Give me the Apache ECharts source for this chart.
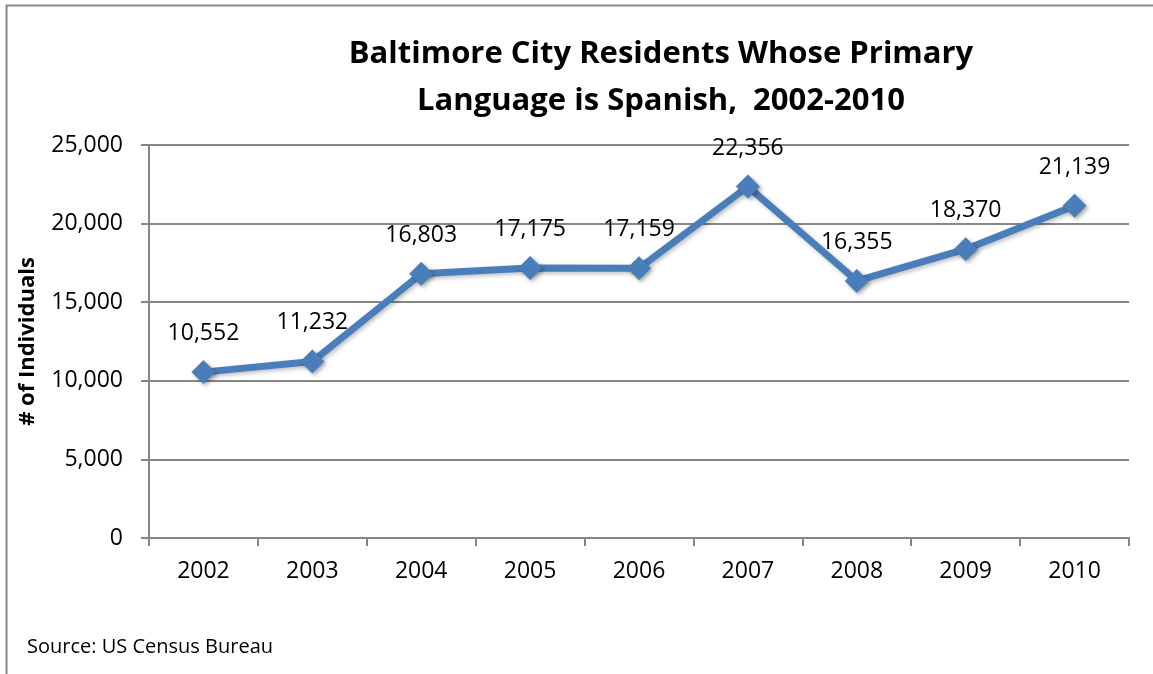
<!DOCTYPE html>
<html>
<head>
<meta charset="utf-8">
<script src="https://cdn.jsdelivr.net/npm/echarts@6/dist/echarts.min.js"></script>
<style>
  html, body { margin: 0; padding: 0; background: #fff; }
  #chart { width: 1153px; height: 674px; }
</style>
</head>
<body>
<div id="chart"></div>
<script>
// Baltimore City residents whose primary language is Spanish
const years = ['2002', '2003', '2004', '2005', '2006', '2007', '2008', '2009', '2010'];
const residents = [10552, 11232, 16803, 17175, 17159, 22356, 16355, 18370, 21139];
const yTicks = [0, 5000, 10000, 15000, 20000, 25000];

const FONT = '"Open Sans", "Liberation Sans", sans-serif';
const fmt = v => v.toLocaleString('en-US');

const chart = echarts.init(document.getElementById('chart'), null, { renderer: 'canvas' });

chart.setOption({
  animation: false,
  backgroundColor: '#ffffff',
  title: {
    text: 'Baltimore City Residents Whose Primary\nLanguage is Spanish,  2002-2010',
    left: 656,
    top: 26,
    textAlign: 'center',
    textStyle: {
      fontFamily: FONT,
      fontSize: 31,
      fontWeight: 'bold',
      color: '#000',
      lineHeight: 47
    }
  },
  graphic: [
    {
      type: 'polyline',
      shape: { points: [[6.5, 680], [6.5, 5.5], [1160, 5.5]] },
      style: { stroke: '#888888', lineWidth: 2, fill: null },
      silent: true
    },
    {
      type: 'text',
      left: 27,
      top: 637,
      style: {
        text: 'Source: US Census Bureau',
        fontFamily: FONT,
        fontSize: 20,
        fill: '#000'
      }
    }
  ],
  grid: {
    left: 149,
    right: 24,
    top: 145,
    bottom: 136,
    containLabel: false
  },
  xAxis: {
    type: 'category',
    data: years,
    boundaryGap: true,
    axisLine: { lineStyle: { color: '#868686', width: 2 } },
    axisTick: { show: true, length: 8, lineStyle: { color: '#868686', width: 2 } },
    axisLabel: {
      margin: 22,
      fontFamily: FONT,
      fontSize: 23,
      color: '#000'
    }
  },
  yAxis: {
    type: 'value',
    min: yTicks[0],
    max: yTicks[yTicks.length - 1],
    interval: 5000,
    name: '# of Individuals',
    nameLocation: 'middle',
    nameGap: 110,
    nameTextStyle: {
      fontFamily: FONT,
      fontSize: 22,
      fontWeight: 'bold',
      color: '#000'
    },
    axisLine: { show: true, lineStyle: { color: '#868686', width: 2 } },
    axisTick: { show: true, length: 8, lineStyle: { color: '#868686', width: 2 } },
    splitLine: { lineStyle: { color: '#868686', width: 2 } },
    axisLabel: {
      margin: 26,
      fontFamily: FONT,
      fontSize: 23,
      color: '#000',
      formatter: v => fmt(v)
    }
  },
  series: [
    {
      type: 'line',
      data: residents,
      symbol: 'diamond',
      symbolSize: 24,
      lineStyle: {
        color: '#4a7ebb',
        width: 7,
        shadowColor: 'rgba(0,0,0,0.25)',
        shadowBlur: 4,
        shadowOffsetX: 2,
        shadowOffsetY: 2
      },
      itemStyle: {
        color: '#4a7ebb',
        shadowColor: 'rgba(0,0,0,0.35)',
        shadowBlur: 4,
        shadowOffsetX: 2,
        shadowOffsetY: 2
      },
      label: {
        show: true,
        position: 'top',
        distance: 15,
        fontFamily: FONT,
        fontSize: 23,
        color: '#000',
        formatter: p => fmt(p.value)
      }
    }
  ]
});
</script>
</body>
</html>
